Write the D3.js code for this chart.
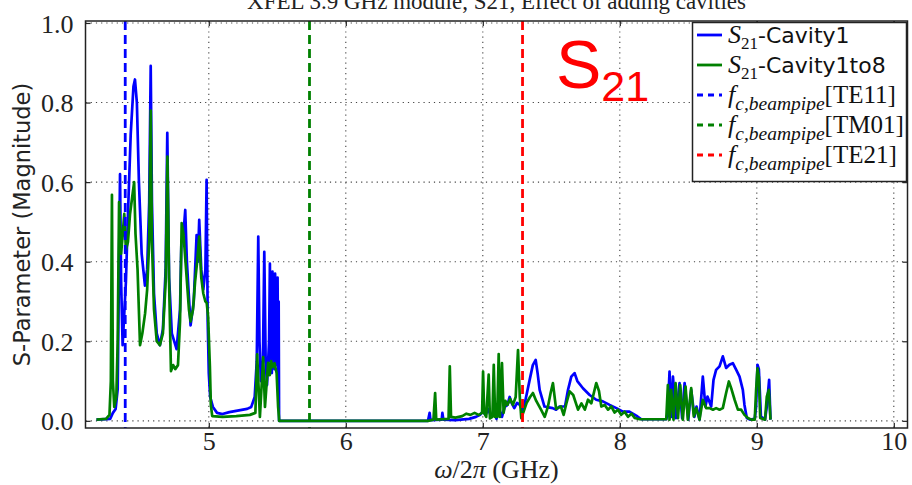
<!DOCTYPE html>
<html>
<head>
<meta charset="utf-8">
<script src="https://cdn.jsdelivr.net/npm/d3@7"></script>
<style>
  body { margin: 0; background: #fff; }
  svg { display: block; }
</style>
</head>
<body>
<svg width="912" height="485"></svg>
<script>
// values: [frequency GHz, |S21|]
const cavity1 = [
  [4.18, 0.003], [4.28, 0.005], [4.30, 0.02], [4.32, 0.03], [4.335, 0.08], [4.345, 0.4],
  [4.352, 0.62], [4.36, 0.35], [4.371, 0.19], [4.38, 0.25], [4.395, 0.35], [4.41, 0.52],
  [4.43, 0.72], [4.45, 0.84], [4.461, 0.858], [4.475, 0.8], [4.49, 0.6], [4.51, 0.42],
  [4.534, 0.34], [4.55, 0.38], [4.565, 0.55], [4.576, 0.892], [4.585, 0.55], [4.60, 0.32],
  [4.62, 0.22], [4.643, 0.19], [4.665, 0.23], [4.685, 0.38], [4.697, 0.724], [4.71, 0.36],
  [4.73, 0.22], [4.765, 0.18], [4.79, 0.28], [4.80, 0.45], [4.815, 0.47], [4.828, 0.53],
  [4.84, 0.4], [4.867, 0.24], [4.89, 0.3], [4.911, 0.467], [4.92, 0.4], [4.93, 0.505],
  [4.945, 0.38], [4.96, 0.33], [4.975, 0.38], [4.984, 0.606], [4.992, 0.25], [5.0, 0.12],
  [5.01, 0.06], [5.03, 0.035], [5.06, 0.02], [5.10, 0.017], [5.15, 0.022], [5.20, 0.025],
  [5.28, 0.03], [5.31, 0.035], [5.335, 0.06], [5.35, 0.15], [5.361, 0.463], [5.37, 0.2],
  [5.38, 0.1], [5.395, 0.15], [5.405, 0.425], [5.415, 0.15], [5.425, 0.09], [5.44, 0.2],
  [5.446, 0.395], [5.45, 0.15], [5.455, 0.3], [5.46, 0.12], [5.465, 0.375], [5.47, 0.14],
  [5.475, 0.33], [5.48, 0.13], [5.484, 0.37], [5.488, 0.15], [5.492, 0.34], [5.497, 0.14],
  [5.502, 0.36], [5.506, 0.12], [5.51, 0.3], [5.513, 0.0], [6.60, 0.0], [6.612, 0.02], [6.618, 0.002],
  [6.70, 0.003], [6.705, 0.02], [6.712, 0.003], [6.80, 0.002], [6.90, 0.005], [6.95, 0.01],
  [6.98, 0.015], [7.0, 0.023], [7.02, 0.015], [7.04, 0.03], [7.06, 0.01], [7.08, 0.025],
  [7.10, 0.005], [7.12, 0.03], [7.14, 0.01], [7.16, 0.035], [7.18, 0.04], [7.196, 0.06],
  [7.21, 0.045], [7.23, 0.032], [7.25, 0.045], [7.27, 0.04], [7.293, 0.023], [7.31, 0.05],
  [7.342, 0.103], [7.365, 0.14], [7.386, 0.153], [7.40, 0.12], [7.415, 0.078], [7.45, 0.036],
  [7.48, 0.034], [7.51, 0.032], [7.535, 0.028], [7.56, 0.036], [7.60, 0.036], [7.622, 0.078],
  [7.646, 0.111], [7.67, 0.12], [7.69, 0.1], [7.731, 0.082], [7.78, 0.065], [7.828, 0.053],
  [7.876, 0.049], [7.926, 0.04], [7.975, 0.032], [8.023, 0.023], [8.07, 0.023], [8.12, 0.013],
  [8.157, 0.004], [8.339, 0.004], [8.35, 0.02], [8.363, 0.124], [8.375, 0.01], [8.388, 0.111],
  [8.41, 0.007], [8.436, 0.095], [8.455, 0.007], [8.473, 0.095], [8.50, 0.003], [8.521, 0.078],
  [8.545, 0.01], [8.56, 0.036], [8.582, 0.003], [8.606, 0.111], [8.625, 0.036], [8.64, 0.061],
  [8.667, 0.036], [8.684, 0.103], [8.703, 0.128], [8.728, 0.137], [8.752, 0.162], [8.776, 0.133],
  [8.80, 0.141], [8.825, 0.145], [8.85, 0.128], [8.874, 0.111], [8.898, 0.078], [8.91, 0.04],
  [8.927, 0.007], [8.95, 0.003], [8.985, 0.005], [8.995, 0.036], [9.005, 0.141], [9.015, 0.13],
  [9.03, 0.011], [9.06, 0.003], [9.073, 0.036], [9.09, 0.103], [9.10, 0.003]
];

const cavity1to8 = [
  [4.18, 0.003], [4.25, 0.005], [4.275, 0.015], [4.285, 0.1], [4.293, 0.568], [4.30, 0.1],
  [4.31, 0.035], [4.325, 0.06], [4.335, 0.2], [4.345, 0.55], [4.36, 0.42], [4.372, 0.47],
  [4.383, 0.52], [4.395, 0.43], [4.41, 0.45], [4.425, 0.52], [4.44, 0.56], [4.455, 0.6],
  [4.465, 0.47], [4.48, 0.38], [4.498, 0.19], [4.515, 0.22], [4.535, 0.27], [4.55, 0.33],
  [4.565, 0.45], [4.576, 0.78], [4.585, 0.45], [4.60, 0.28], [4.62, 0.2], [4.643, 0.19],
  [4.665, 0.22], [4.685, 0.35], [4.698, 0.664], [4.71, 0.35], [4.724, 0.125], [4.74, 0.14],
  [4.755, 0.13], [4.775, 0.14], [4.79, 0.25], [4.802, 0.497], [4.815, 0.47], [4.83, 0.4],
  [4.855, 0.28], [4.867, 0.25], [4.885, 0.28], [4.90, 0.35], [4.915, 0.4], [4.93, 0.463],
  [4.945, 0.36], [4.96, 0.32], [4.975, 0.3], [4.985, 0.296], [4.995, 0.262], [5.008, 0.136],
  [5.015, 0.04], [5.025, 0.012], [5.10, 0.01], [5.20, 0.012], [5.30, 0.015], [5.34, 0.02],
  [5.353, 0.167], [5.373, 0.01], [5.397, 0.16], [5.41, 0.035], [5.433, 0.146], [5.445, 0.115],
  [5.455, 0.15], [5.465, 0.135], [5.48, 0.145], [5.495, 0.12], [5.506, 0.035], [5.514, 0.0],
  [6.60, 0.0], [6.64, 0.003], [6.652, 0.07], [6.66, 0.003], [6.75, 0.005], [6.759, 0.137],
  [6.768, 0.01], [6.80, 0.008], [6.85, 0.012], [6.88, 0.018], [6.91, 0.015], [6.94, 0.02],
  [6.97, 0.015], [6.995, 0.02], [7.002, 0.124], [7.01, 0.02], [7.025, 0.01], [7.043, 0.116],
  [7.052, 0.006], [7.07, 0.01], [7.08, 0.141], [7.09, 0.01], [7.105, 0.01], [7.116, 0.168],
  [7.125, 0.01], [7.14, 0.145], [7.152, 0.02], [7.165, 0.05], [7.18, 0.04], [7.20, 0.055],
  [7.22, 0.04], [7.24, 0.06], [7.257, 0.178], [7.27, 0.06], [7.281, 0.007], [7.30, 0.025],
  [7.32, 0.045], [7.345, 0.06], [7.366, 0.07], [7.39, 0.05], [7.425, 0.028], [7.452, 0.01],
  [7.475, 0.035], [7.495, 0.07], [7.512, 0.095], [7.535, 0.03], [7.57, 0.036], [7.59, 0.015],
  [7.61, 0.044], [7.634, 0.074], [7.66, 0.065], [7.695, 0.028], [7.72, 0.044], [7.745, 0.028],
  [7.768, 0.053], [7.792, 0.044], [7.828, 0.095], [7.848, 0.075], [7.865, 0.036], [7.89, 0.04],
  [7.914, 0.028], [7.938, 0.036], [7.962, 0.021], [7.987, 0.028], [8.01, 0.015], [8.035, 0.023],
  [8.06, 0.01], [8.085, 0.018], [8.11, 0.007], [8.145, 0.004], [8.339, 0.004], [8.351, 0.09],
  [8.363, 0.003], [8.375, 0.078], [8.392, 0.003], [8.407, 0.095], [8.425, 0.007], [8.441, 0.09],
  [8.46, 0.003], [8.48, 0.086], [8.497, 0.003], [8.521, 0.082], [8.54, 0.011], [8.558, 0.032],
  [8.582, 0.003], [8.606, 0.053], [8.63, 0.032], [8.655, 0.032], [8.68, 0.028], [8.703, 0.032],
  [8.728, 0.028], [8.752, 0.032], [8.776, 0.07], [8.796, 0.099], [8.813, 0.082], [8.838, 0.053],
  [8.862, 0.028], [8.886, 0.028], [8.91, 0.015], [8.935, 0.007], [8.96, 0.003], [8.985, 0.003],
  [8.995, 0.078], [9.005, 0.132], [9.015, 0.11], [9.025, 0.007], [9.06, 0.003], [9.073, 0.061],
  [9.088, 0.078], [9.10, 0.003]
];

// beam pipe cutoff frequencies (GHz)
const cutoffModes = ["TE11", "TM01", "TE21"];
const cutoffFreqs = [4.39, 5.735, 7.29];

const xTicks = [5, 6, 7, 8, 9, 10];
const yTicks = [0.0, 0.2, 0.4, 0.6, 0.8, 1.0];

const svg = d3.select("svg");
const plotL = 85.5, plotR = 907.5, plotT = 21, plotB = 428;

const x = d3.scaleLinear().domain([4.1, 10.1]).range([plotL, plotR]);
const y = d3.scaleLinear().domain([-0.018, 1.005]).range([plotB, plotT]);

const serif = "'Liberation Serif', 'DejaVu Serif', serif";
const sans = "'DejaVu Sans', sans-serif";

// title, cut by the top edge of the picture like in the source image
svg.append("text")
  .attr("x", (plotL + plotR) / 2).attr("y", 9)
  .attr("text-anchor", "middle")
  .style("font-family", serif).style("font-size", "23px").attr("fill", "#222")
  .text("XFEL 3.9 GHz module, S21, Effect of adding cavities");

svg.append("defs").append("clipPath").attr("id", "plot")
  .append("rect").attr("x", plotL).attr("y", plotT)
  .attr("width", plotR - plotL).attr("height", plotB - plotT);

// grid
const grid = svg.append("g")
  .attr("stroke", "#444").attr("stroke-width", 1.1).attr("stroke-dasharray", "1.2,4");
grid.selectAll("line.gx").data(xTicks).join("line").attr("class", "gx")
  .attr("x1", d => x(d)).attr("x2", d => x(d)).attr("y1", plotT).attr("y2", plotB);
grid.selectAll("line.gy").data(yTicks).join("line").attr("class", "gy")
  .attr("x1", plotL).attr("x2", plotR).attr("y1", d => y(d)).attr("y2", d => y(d));

const plot = svg.append("g").attr("clip-path", "url(#plot)");

const line = d3.line().x(d => x(d[0])).y(d => y(d[1]));

plot.append("path").datum(cavity1)
  .attr("d", line).attr("fill", "none").attr("stroke", "#0000ff")
  .attr("stroke-width", 2.7).attr("stroke-linejoin", "round");
plot.append("path").datum(cavity1to8)
  .attr("d", line).attr("fill", "none").attr("stroke", "#008000")
  .attr("stroke-width", 2.7).attr("stroke-linejoin", "round");

const cutColor = d3.scaleOrdinal().domain(cutoffModes).range(["#0000ff", "#008000", "#ff0000"]);

plot.selectAll("line.cut").data(cutoffFreqs).join("line").attr("class", "cut")
  .attr("x1", d => x(d)).attr("x2", d => x(d)).attr("y1", plotT).attr("y2", plotB)
  .attr("stroke", (d, i) => cutColor(cutoffModes[i]))
  .attr("stroke-width", 2.8).attr("stroke-dasharray", "9,5");

// frame and inward ticks
svg.append("rect").attr("x", plotL).attr("y", plotT)
  .attr("width", plotR - plotL).attr("height", plotB - plotT)
  .attr("fill", "none").attr("stroke", "#222").attr("stroke-width", 1.5);

const xAxis = d3.axisBottom(x).tickValues(xTicks).tickSizeInner(-5).tickSizeOuter(0)
  .tickPadding(4).tickFormat(d3.format("d"));
const xAxisTop = d3.axisTop(x).tickValues(xTicks).tickSizeInner(-5).tickSizeOuter(0).tickFormat("");
const yAxis = d3.axisLeft(y).tickValues(yTicks).tickSizeInner(-5).tickSizeOuter(0)
  .tickPadding(12).tickFormat(d3.format(".1f"));
const yAxisRight = d3.axisRight(y).tickValues(yTicks).tickSizeInner(-5).tickSizeOuter(0).tickFormat("");

function styleAxis(g) {
  g.select(".domain").remove();
  g.selectAll(".tick line").attr("stroke", "#222").attr("stroke-width", 1.2);
  g.selectAll(".tick text").attr("fill", "#222")
    .style("font-family", serif).style("font-size", "26px");
}

svg.append("g").attr("transform", `translate(0,${plotB})`).call(xAxis).call(styleAxis);
svg.append("g").attr("transform", `translate(0,${plotT})`).call(xAxisTop).call(styleAxis);
svg.append("g").attr("transform", `translate(${plotL},0)`).call(yAxis).call(styleAxis)
  .selectAll(".tick text").attr("dy", "0.35em");
svg.append("g").attr("transform", `translate(${plotR},0)`).call(yAxisRight).call(styleAxis);

// axis labels
const xl = svg.append("text")
  .attr("x", (plotL + plotR) / 2).attr("y", 478).attr("text-anchor", "middle")
  .style("font-family", serif).style("font-size", "26px").attr("fill", "#222");
xl.append("tspan").style("font-style", "italic").text("ω");
xl.append("tspan").text("/2");
xl.append("tspan").style("font-style", "italic").text("π");
xl.append("tspan").text(" (GHz)");

svg.append("text")
  .attr("transform", `translate(30,${(plotT + plotB) / 2}) rotate(-90)`)
  .attr("text-anchor", "middle")
  .style("font-family", sans).style("font-size", "22.5px").attr("fill", "#222")
  .text("S-Parameter (Magnitude)");

// big red S21 annotation
const ann = svg.append("text").attr("x", 556).attr("y", 88)
  .style("font-family", "'Liberation Sans', Arial, sans-serif").attr("fill", "#ff0000");
ann.append("tspan").style("font-size", "68px").text("S");
ann.append("tspan").attr("dy", 13).style("font-size", "43px").text("21");

// legend
const lg = svg.append("g");
lg.append("rect").attr("x", 692.5).attr("y", 22.5).attr("width", 214).attr("height", 159)
  .attr("fill", "#fff").attr("stroke", "#222").attr("stroke-width", 1.5);

const legendNames = ["Cavity1", "Cavity1to8", ...cutoffModes];
const legendColors = ["#0000ff", "#008000", ...cutoffModes.map(cutColor)];
const rowY = [35, 65, 95, 125, 155];

legendNames.forEach((name, i) => {
  const yy = rowY[i];
  lg.append("line").attr("x1", 697).attr("x2", 722).attr("y1", yy).attr("y2", yy)
    .attr("stroke", legendColors[i]).attr("stroke-width", 2.8)
    .attr("stroke-dasharray", i < 2 ? null : "6,5");
  const t = lg.append("text").attr("x", 728).attr("y", yy + 8)
    .attr("fill", "#111").style("font-family", serif).style("font-size", "26px");
  if (i < 2) {
    t.append("tspan").style("font-style", "italic").text("S");
    t.append("tspan").attr("dy", 6).style("font-size", "17px").text("21");
    t.append("tspan").attr("dy", -6).style("font-family", sans).style("font-size", "22px")
      .text("-" + name);
  } else {
    t.append("tspan").style("font-style", "italic").text("f");
    t.append("tspan").attr("dy", 7).style("font-style", "italic").style("font-size", "19.5px")
      .text("c,beampipe");
    t.append("tspan").attr("dy", -7).style("font-size", "25px").text("[" + name + "]");
  }
});
</script>
</body>
</html>
